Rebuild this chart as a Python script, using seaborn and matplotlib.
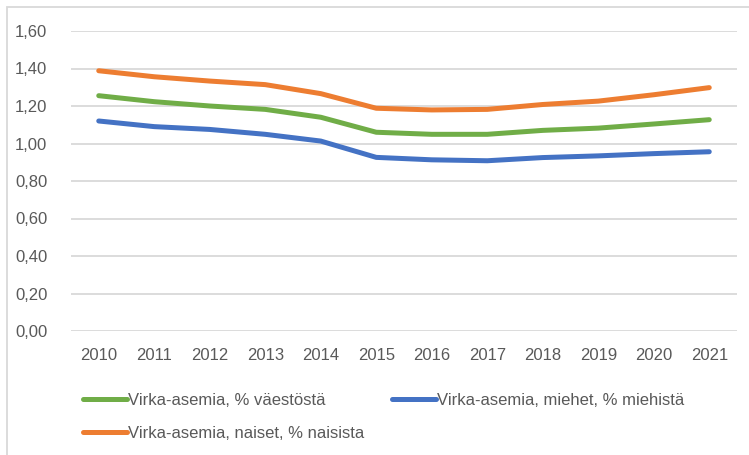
import matplotlib
matplotlib.use('Agg')
import matplotlib.pyplot as plt
import seaborn as sns
import pandas as pd
from matplotlib.patches import Rectangle

# data
years = [2010, 2011, 2012, 2013, 2014, 2015, 2016, 2017, 2018, 2019, 2020, 2021]
vaesto = [1.255, 1.223, 1.200, 1.182, 1.140, 1.060, 1.049, 1.049, 1.070, 1.082, 1.104, 1.127]
miehet = [1.120, 1.090, 1.075, 1.049, 1.013, 0.926, 0.913, 0.908, 0.925, 0.934, 0.946, 0.956]
naiset = [1.388, 1.356, 1.333, 1.314, 1.266, 1.188, 1.179, 1.182, 1.208, 1.226, 1.260, 1.298]

labels = ['Virka-asemia, % väestöstä',
          'Virka-asemia, naiset, % naisista',
          'Virka-asemia, miehet, % miehistä']
colors = ['#70AD47', '#ED7D31', '#4472C4']

df = pd.concat([
    pd.DataFrame({'vuosi': years, 'arvo': vaesto, 'sarja': labels[0]}),
    pd.DataFrame({'vuosi': years, 'arvo': naiset, 'sarja': labels[1]}),
    pd.DataFrame({'vuosi': years, 'arvo': miehet, 'sarja': labels[2]}),
])

sns.set_style('white')
plt.rcParams['font.family'] = ['Liberation Sans', 'DejaVu Sans']

fig = plt.figure(figsize=(7.49, 4.55), dpi=100)
ax = fig.add_axes([71/749, 1-331/455, 666/749, 300/455])

# kaavion reunus
fig.patches.append(Rectangle((7/749, -0.1), 1.2, 1-7/455+0.1, transform=fig.transFigure,
                             fill=False, edgecolor='#D9D9D9', linewidth=1.3, zorder=0))

sns.lineplot(data=df, x='vuosi', y='arvo', hue='sarja', palette=colors, hue_order=labels,
             linewidth=3.6, ax=ax, sort=False, legend=False, solid_capstyle='round')

ax.set_xlim(2009.5, 2021.5)
ax.set_ylim(0, 1.6)
ax.set_yticks([i * 0.2 for i in range(9)])
ax.set_yticklabels([f'{i*0.2:.2f}'.replace('.', ',') for i in range(9)])
ax.set_xticks(years)
ax.set_xticklabels([str(y) for y in years])
ax.yaxis.grid(True, color='#D9D9D9', linewidth=1.3)
ax.set_axisbelow(True)
for s in ax.spines.values():
    s.set_visible(False)
ax.tick_params(axis='y', length=0, pad=17, labelsize=12, labelcolor='#595959')
ax.tick_params(axis='x', length=0, pad=12, labelsize=12, labelcolor='#595959')
ax.set_xlabel('')
ax.set_ylabel('')

handles = [plt.Line2D([], [], color=c, linewidth=3.6) for c in colors]
fig.legend(handles, labels, ncol=2, loc='upper left', bbox_to_anchor=(83/749, 1-393/455),
           frameon=False, fontsize=12, handlelength=2.65, handletextpad=0.05,
           columnspacing=1.65, labelspacing=1.05, borderpad=0, borderaxespad=0,
           labelcolor='#595959')

fig.savefig('out.png', dpi=100)
